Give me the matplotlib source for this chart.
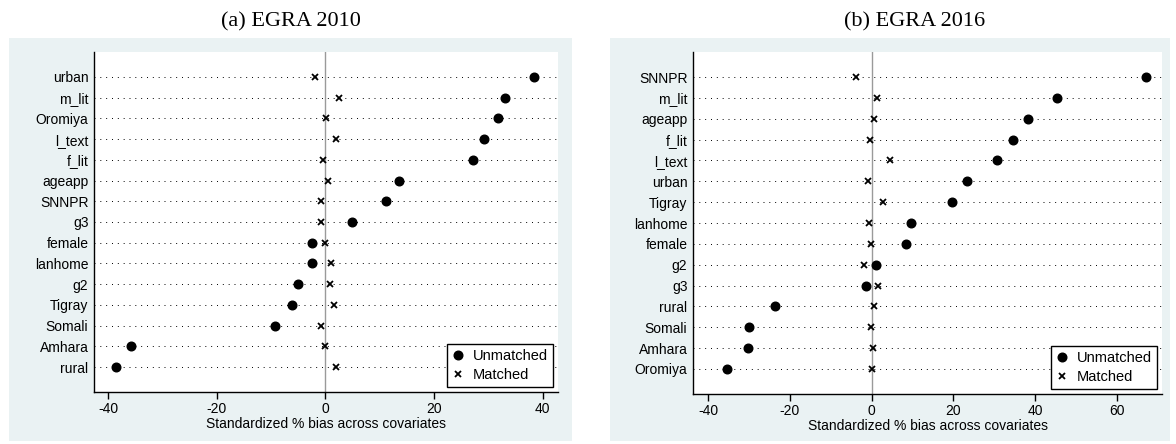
import matplotlib
matplotlib.use("Agg")
import matplotlib.pyplot as plt
from matplotlib.patches import Rectangle
from matplotlib.lines import Line2D

# ---------------- data ----------------
labels_2010 = ["urban", "m_lit", "Oromiya", "l_text", "f_lit", "ageapp", "SNNPR", "g3",
               "female", "lanhome", "g2", "Tigray", "Somali", "Amhara", "rural"]
unmatched_2010 = [38.4, 33.0, 31.8, 29.1, 27.2, 13.5, 11.1, 4.9,
                  -2.4, -2.5, -5.0, -6.1, -9.3, -35.8, -38.5]
matched_2010 = [-2.0, 2.5, 0.1, 2.0, -0.5, 0.4, -0.9, -0.8,
                -0.1, 1.1, 0.8, 1.5, -0.9, 0.0, 2.0]

labels_2016 = ["SNNPR", "m_lit", "ageapp", "f_lit", "l_text", "urban", "Tigray", "lanhome",
               "female", "g2", "g3", "rural", "Somali", "Amhara", "Oromiya"]
unmatched_2016 = [67.2, 45.4, 38.3, 34.5, 30.7, 23.4, 19.7, 9.7,
                  8.5, 1.0, -1.4, -23.7, -30.0, -30.3, -35.5]
matched_2016 = [-3.9, 1.4, 0.5, -0.3, 4.4, -0.9, 2.8, -0.7,
                -0.2, -2.0, 1.6, 0.5, -0.2, 0.3, 0.0]

titles = ["(a) EGRA 2010", "(b) EGRA 2016"]
xticks_2010 = [-40, -20, 0, 20, 40]
xticks_2016 = [-40, -20, 0, 20, 40, 60]
xlabel = "Standardized % bias across covariates"
legend_labels = ["Unmatched", "Matched"]

# ---------------- figure ----------------
W, H = 1176, 444
fig = plt.figure(figsize=(W / 100, H / 100), dpi=100)
fig.patch.set_facecolor("white")
plt.rcParams["font.family"] = ["Liberation Sans", "DejaVu Sans"]

BG = "#EAF2F3"

def px_rect(x0, y0, x1, y1):
    return [x0 / W, 1 - y1 / H, (x1 - x0) / W, (y1 - y0) / H]

# background panels
for (x0, y0, x1, y1) in [(9, 38, 572, 441), (610, 38, 1170, 441)]:
    r = px_rect(x0, y0, x1, y1)
    fig.patches.append(Rectangle((r[0], r[1]), r[2], r[3], transform=fig.transFigure,
                                 facecolor=BG, edgecolor="none", zorder=-5))

panels = [
    dict(labels=labels_2010, un=unmatched_2010, ma=matched_2010, xticks=xticks_2010,
         xlim=(-42.6, 42.8), rect=px_rect(94, 52, 558, 392), title=titles[0], tx=291),
    dict(labels=labels_2016, un=unmatched_2016, ma=matched_2016, xticks=xticks_2016,
         xlim=(-43.7, 71.0), rect=px_rect(693, 52, 1162, 394), title=titles[1], tx=915),
]

for p in panels:
    ax = fig.add_axes(p["rect"])
    ax.set_zorder(1)
    ax.set_facecolor("white")
    n = len(p["labels"])
    ys = list(range(n, 0, -1))
    # dotted row lines
    for y in ys:
        ax.axhline(y, color="black", lw=0.7, dashes=(1, 5), zorder=1)
    ax.axvline(0, color="#9a9a9a", lw=1.0, zorder=1.5)
    ax.plot(p["un"], ys, linestyle="none", marker="o", ms=6.2, color="black", zorder=3)
    ax.plot(p["ma"], ys, linestyle="none", marker="x", ms=4, mew=1.3, color="black", zorder=3)
    ax.set_ylim(-0.2, n + 1.2)
    ax.set_xlim(*p["xlim"])
    ax.set_yticks(ys)
    ax.set_yticklabels(p["labels"], fontsize=10)
    ax.tick_params(axis="y", length=0, pad=4)
    ax.set_xticks(p["xticks"])
    ax.set_xticklabels([str(t) for t in p["xticks"]], fontsize=10)
    ax.tick_params(axis="x", length=5, width=1, pad=2, color="black")
    for s in ["top", "right"]:
        ax.spines[s].set_visible(False)
    for s in ["left", "bottom"]:
        ax.spines[s].set_linewidth(1.0)
        ax.spines[s].set_color("black")
    ax.set_xlabel(xlabel, fontsize=10, labelpad=1)
    handles = [
        Line2D([], [], linestyle="none", marker="o", ms=6.2, color="black"),
        Line2D([], [], linestyle="none", marker="x", ms=4, mew=1.3, color="black"),
    ]
    leg = ax.legend(handles, legend_labels, loc="lower right", fontsize=10.5,
                    frameon=True, fancybox=False, borderaxespad=0.35,
                    handlelength=0.8, handletextpad=0.6, borderpad=0.35,
                    labelspacing=0.35)
    leg.get_frame().set_edgecolor("black")
    leg.get_frame().set_linewidth(1.0)
    leg.get_frame().set_alpha(1)
    fig.text(p["tx"] / W, 1 - 22 / H, p["title"], ha="center", va="center",
             fontsize=16, family=["Liberation Serif", "DejaVu Serif"])

fig.savefig("out.png", dpi=100, facecolor="white")
